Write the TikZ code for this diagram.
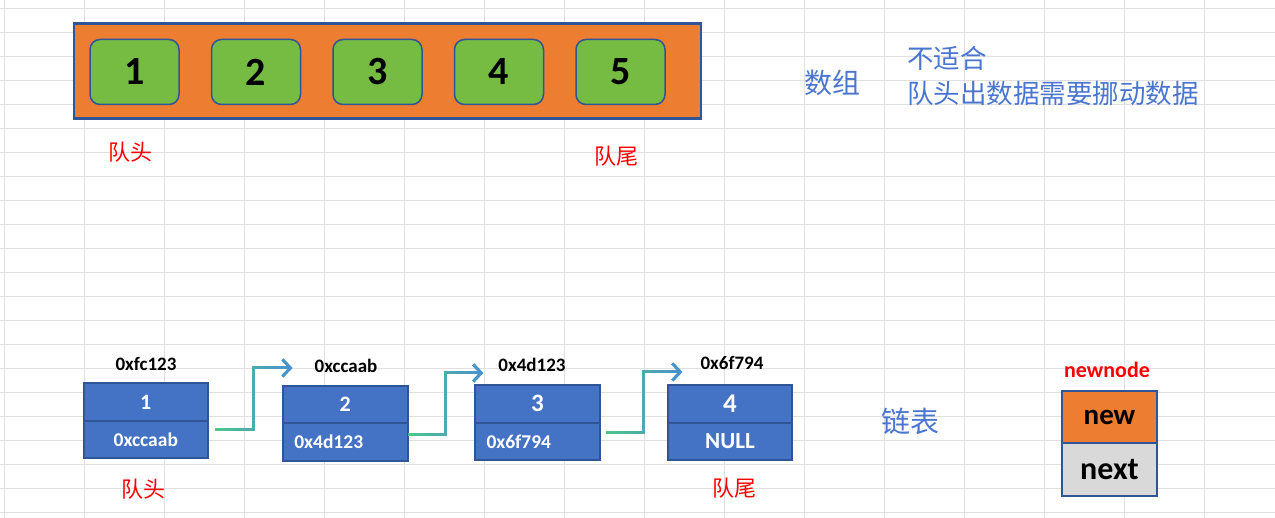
\documentclass[tikz,border=0pt]{standalone}
\usepackage{fontspec}
\setsansfont{Carlito}
\newfontfamily\cjk{Noto Sans CJK SC}
\usetikzlibrary{arrows.meta, positioning, calc, fadings}

\definecolor{qorange}{HTML}{ED7D31}
\definecolor{qgreen}{HTML}{76BC43}
\definecolor{qedge}{HTML}{2F5597}
\definecolor{qblue}{HTML}{4472C4}
\definecolor{qgray}{HTML}{D9D9D9}
\definecolor{qtext}{HTML}{4A76CF}
\definecolor{qgrid}{HTML}{E0E0E0}
\definecolor{lnkgreen}{HTML}{4CC98A}
\definecolor{lnkblue}{HTML}{4A8ED2}

\begin{document}
\begin{tikzpicture}[
  x=1pt, y=-1pt, font=\sffamily\bfseries,
  array/.style={rectangle, draw=qedge, line width=2.2pt, fill=qorange, minimum width=627pt, minimum height=95pt},
  cell/.style={rectangle, rounded corners=10pt, draw=qedge, line width=1.5pt, fill=qgreen, minimum width=89pt, minimum height=65pt, font=\sffamily\bfseries\fontsize{40}{40}\selectfont},
  val/.style={rectangle, draw=qedge, line width=2pt, fill=qblue, text=white, minimum width=124.5pt, minimum height=37.5pt, inner sep=0pt, font=\sffamily\bfseries\fontsize{22}{22}\selectfont},
  ptr/.style={val, font=\sffamily\bfseries\fontsize{19.5}{19.5}\selectfont},
  ptrl/.style={ptr, text width=102pt, align=left},
  addr/.style={inner sep=0pt, font=\sffamily\bfseries\fontsize{19}{19}\selectfont},
  tag/.style={text=red, inner sep=0pt, font=\cjk\mdseries\fontsize{22}{22}\selectfont},
  note/.style={text=qtext, inner sep=0pt, font=\cjk\mdseries\fontsize{26.5}{26.5}\selectfont},
  newbox/.style={rectangle, draw=qedge, line width=2pt, minimum width=95.5pt, minimum height=52.8pt, inner sep=0pt},
  link/.style={line width=3pt, draw=lnkgreen, -{Straight Barb[length=8pt, width=17pt]}, postaction={draw=lnkblue, path fading=west}}]
\useasboundingbox (0,0) rectangle (1275,518);
% sheet grid
\foreach \gx in {0,...,15} \draw[qgrid, line width=1pt] (4+80*\gx,0) -- (4+80*\gx,518);
\foreach \gy in {0,...,21} \draw[qgrid, line width=1pt] (0,8.5+24*\gy) -- (1275,8.5+24*\gy);

% array
\node[array] (arr) at (387.7,71) {};
\node[cell] (c1) at (134.5,72) {1};
\node[cell, right=31pt of c1] (c2) {2};
\node[cell, right=31pt of c2] (c3) {3};
\node[cell, right=31pt of c3] (c4) {4};
\node[cell, right=31pt of c4] (c5) {5};
\node[tag] (ahead) at (130,152) {队头};
\node[tag] (atail) at (616,156) {队尾};
\node[note, font=\cjk\mdseries\fontsize{28}{28}\selectfont] (arrname) at (832,83) {数组};
\node[note, anchor=west] (why1) at (907,58) {不适合};
\node[note, anchor=west] (why2) at (907,93) {队头出数据需要挪动数据};

% linked list
\node[val] (v1) at (145.8,402) {1};
\node[ptr, below=-2pt of v1] (p1) {0xccaab};
\node[val] (v2) at (345.3,404.5) {2};
\node[ptrl, below=-2pt of v2] (p2) {0x4d123};
\node[val, font=\sffamily\bfseries\fontsize{25}{25}\selectfont] (v3) at (537.5,403.8) {3};
\node[ptrl, below=-2pt of v3] (p3) {0x6f794};
\node[val, font=\sffamily\bfseries\fontsize{27}{27}\selectfont] (v4) at (730,403.8) {4};
\node[ptr, below=-2pt of v4, font=\sffamily\bfseries\fontsize{23}{23}\selectfont] (p4) {NULL};
\node[addr] (a1) at (146,364) {0xfc123};
\node[addr] (a2) at (346,366) {0xccaab};
\node[addr] (a3) at (532,365) {0x4d123};
\node[addr] (a4) at (732,363) {0x6f794};
\draw[link] ([shift={(6,-10)}]p1.east) -- ++(38,0) |- ([shift={(-22,2)}]a2.west);
\draw[link] ([shift={(-1,-7)}]p2.east) -- ++(38,0) |- ([shift={(-15,8)}]a3.west);
\draw[link] ([shift={(5,-9)}]p3.east) -- ++(38,0) |- ([shift={(-18,9)}]a4.west);
\node[tag] (lhead) at (143,489) {队头};
\node[tag] (ltail) at (734,488) {队尾};
\node[note, font=\cjk\mdseries\fontsize{29}{29}\selectfont] (listname) at (910,421) {链表};

% new node
\node[newbox, fill=qorange, font=\sffamily\bfseries\fontsize{29}{29}\selectfont] (nnew) at (1109.5,417) {new};
\node[newbox, fill=qgray, below=-2pt of nnew, font=\sffamily\bfseries\fontsize{32}{32}\selectfont] (nnext) {next};
\node[text=red, inner sep=0pt, font=\sffamily\bfseries\fontsize{22}{22}\selectfont] (nname) at (1107,370) {newnode};
\end{tikzpicture}
\end{document}
